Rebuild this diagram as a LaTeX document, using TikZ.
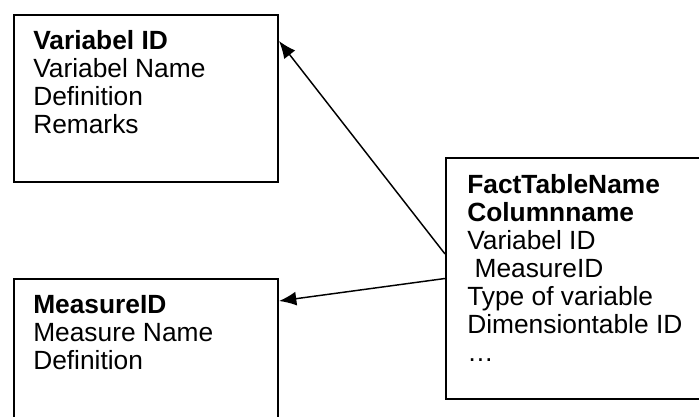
\documentclass[tikz,border=0pt]{standalone}
\usepackage{fontspec}
\setmainfont{Liberation Sans}
\usetikzlibrary{positioning, arrows.meta}

\tikzset{
  tablebox/.style={draw, rectangle, line width=1.5pt, anchor=north west, inner sep=0pt, minimum width=198pt},
  fields/.style={anchor=north west, align=left, inner sep=0pt, font=\fontsize{19.75}{21}\selectfont},
  link/.style={line width=1.1pt, -{Latex[length=13pt, width=10.5pt]}}
}

\begin{document}
\begin{tikzpicture}[x=0.75pt, y=-0.75pt]
        \clip (0,0) rectangle (699,417);
        % Add the tables
        \node[tablebox, minimum height=125.25pt] (var) at (13,14) {};
        \node[tablebox, minimum height=121.5pt] (measure) at (13,278) {};
        \node[tablebox, minimum width=206.25pt, minimum height=180.75pt] (fact) at (445,157) {};

        % Add the fields
        \node[fields, below right=12pt and 15pt of var.north west] (varfields)
            {\textbf{Variabel ID}\\Variabel Name\\Definition\\Remarks};
        \node[fields, below right=12.75pt and 15pt of measure.north west] (measurefields)
            {\textbf{MeasureID}\\Measure Name\\Definition};
        \node[fields, below right=12.75pt and 16.5pt of fact.north west] (factfields)
            {\textbf{FactTableName}\\\textbf{Columnname}\\Variabel ID\\\ MeasureID\\Type of variable\\Dimensiontable ID\\…};

        \path
            ([yshift=18.4pt]fact.west) edge[link] ([yshift=-20.25pt]var.north east)
            (fact.west) edge[link] ([yshift=-17.25pt]measure.north east);
    \end{tikzpicture}
\end{document}
